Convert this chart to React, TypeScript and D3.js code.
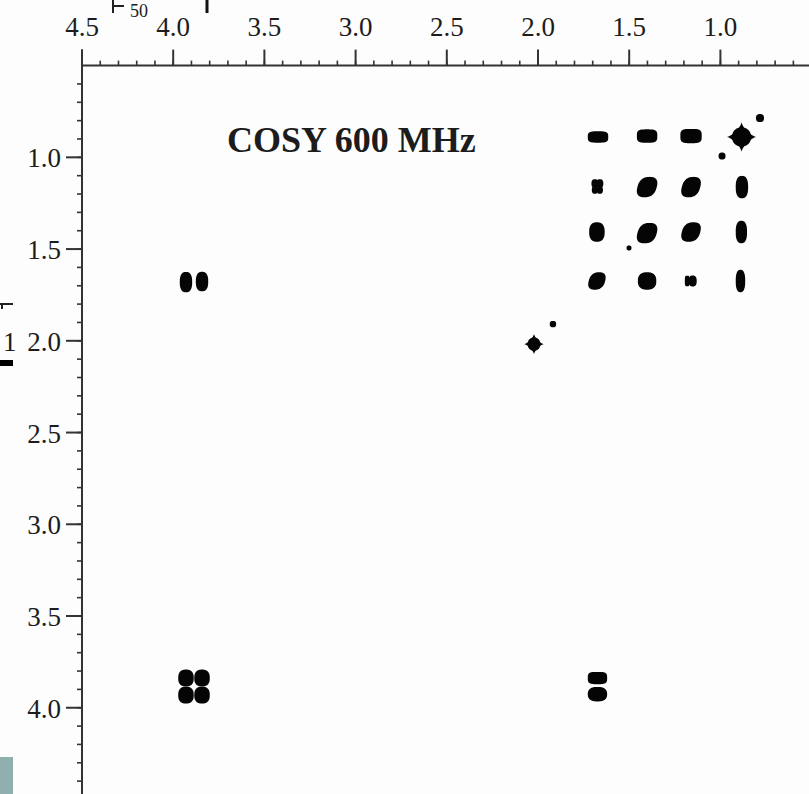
import React from "react";
import * as d3 from "d3";

// ---- data (ppm) ----
const xMajorTicks = [4.5, 4.0, 3.5, 3.0, 2.5, 2.0, 1.5, 1.0];
const yMajorTicks = [1.0, 1.5, 2.0, 2.5, 3.0, 3.5, 4.0];
const titleText = "COSY 600 MHz";

// contour lobes: [x ppm, y ppm, width ppm, height ppm, kind]
const lobesRowA: [number, number, number, number, string][] = [
  [1.671, 0.889, 0.112, 0.062, "rect"],
  [1.402, 0.884, 0.112, 0.073, "rect"],
  [1.161, 0.884, 0.117, 0.078, "rect"],
  [0.884, 0.889, 0.162, 0.162, "star"],
];
const lobesRowB: [number, number, number, number, string][] = [
  [1.688, 1.143, 0.038, 0.048, "oval"],
  [1.661, 1.143, 0.038, 0.048, "oval"],
  [1.688, 1.178, 0.034, 0.042, "oval"],
  [1.661, 1.178, 0.034, 0.042, "oval"],
  [1.402, 1.162, 0.106, 0.111, "tilt"],
  [1.161, 1.162, 0.101, 0.111, "tilt"],
  [0.882, 1.162, 0.068, 0.122, "oval"],
];
const lobesRowC: [number, number, number, number, string][] = [
  [1.677, 1.407, 0.085, 0.106, "oval"],
  [1.402, 1.413, 0.106, 0.111, "tilt"],
  [1.161, 1.407, 0.101, 0.106, "tilt"],
  [0.885, 1.407, 0.062, 0.122, "oval"],
];
const lobesRowD: [number, number, number, number, string][] = [
  [1.677, 1.674, 0.09, 0.095, "tilt"],
  [1.402, 1.674, 0.101, 0.095, "oval"],
  [1.182, 1.674, 0.026, 0.058, "rect"],
  [1.152, 1.674, 0.044, 0.06, "oval"],
  [0.89, 1.674, 0.052, 0.122, "oval"],
  [3.93, 1.68, 0.068, 0.111, "oval"],
  [3.842, 1.677, 0.068, 0.106, "oval"],
];
const lobesLow: [number, number, number, number, string][] = [
  [2.022, 2.018, 0.108, 0.112, "star"],
  [3.93, 3.838, 0.085, 0.092, "oval"],
  [3.842, 3.838, 0.085, 0.092, "oval"],
  [3.93, 3.931, 0.085, 0.092, "oval"],
  [3.842, 3.931, 0.085, 0.092, "oval"],
  [1.674, 3.838, 0.106, 0.067, "rect"],
  [1.674, 3.926, 0.106, 0.079, "oval"],
];
const noiseDots: [number, number, number, number, string][] = [
  [0.783, 0.786, 0.044, 0.044, "oval"],
  [0.991, 0.993, 0.038, 0.038, "oval"],
  [1.501, 1.494, 0.027, 0.027, "oval"],
  [1.918, 1.909, 0.035, 0.035, "oval"],
];

const W = 809;
const H = 794;

const x = d3.scaleLinear().domain([4.5, 0.5]).range([82, 82 + 4 * 182.4]);
const y = d3.scaleLinear().domain([0.5, 4.5]).range([65.6, 65.6 + 4 * 183.47]);

const lineGen = d3.line<[number, number]>().curve(d3.curveLinearClosed);

function superEllipse(rx: number, ry: number, n: number, N = 120): string {
  const pts: [number, number][] = [];
  for (let i = 0; i < N; i++) {
    const t = (i / N) * Math.PI * 2;
    const c = Math.cos(t);
    const s = Math.sin(t);
    pts.push([
      rx * Math.sign(c) * Math.pow(Math.abs(c), 2 / n),
      ry * Math.sign(s) * Math.pow(Math.abs(s), 2 / n),
    ]);
  }
  return lineGen(pts) as string;
}

function Lobe({ d }: { d: [number, number, number, number, string] }) {
  const [px, py, pw, ph, kind] = d;
  const cx = x(px);
  const cy = y(py);
  const rx = Math.abs(x(px - pw / 2) - x(px + pw / 2)) / 2;
  const ry = Math.abs(y(py - ph / 2) - y(py + ph / 2)) / 2;
  if (kind === "star") {
    return (
      <g transform={`translate(${cx},${cy})`} fill="#050505">
        <path d={superEllipse(rx, ry, 0.72)} />
        <path d={superEllipse(rx * 0.64, ry * 0.64, 2.2)} />
      </g>
    );
  }
  const n = kind === "rect" ? 3.6 : 2.5;
  const t = kind === "tilt" ? " skewX(-14)" : "";
  return (
    <path
      transform={`translate(${cx},${cy})${t}`}
      d={superEllipse(rx, ry, n)}
      fill="#050505"
    />
  );
}

export default function App() {
  const xMinor = d3.range(45, 5, -1).map((v) => v / 10).filter((v) => x(v) <= W);
  const yMinor = d3.range(6, 45, 1).map((v) => v / 10).filter((v) => y(v) <= H);
  const allLobes = [
    ...lobesRowA,
    ...lobesRowB,
    ...lobesRowC,
    ...lobesRowD,
    ...lobesLow,
    ...noiseDots,
  ];
  const axisColor = "#333";
  const textColor = "#1c1c1c";
  const font = "'Liberation Serif', 'Times New Roman', serif";
  return (
    <svg
      width={W}
      height={H}
      style={{ position: "absolute", left: 0, top: 0, background: "#fdfdfd" }}
      fontFamily={font}
    >
      <rect x={0} y={0} width={W} height={H} fill="#fdfdfd" />
      {/* cropped artifacts */}
      <line x1={113} y1={0} x2={113} y2={13} stroke="#222" strokeWidth={2} />
      <line x1={113} y1={6} x2={124} y2={6} stroke="#222" strokeWidth={2} />
      <text x={130} y={17} fontSize={18} fill={textColor}>50</text>
      <line x1={207} y1={0} x2={207} y2={13} stroke="#111" strokeWidth={3} />
      <line x1={0} y1={304} x2={13} y2={304} stroke="#222" strokeWidth={2} />
      <line x1={2} y1={304} x2={2} y2={309} stroke="#222" strokeWidth={2} />
      <text x={3} y={351} fontSize={27} fill={textColor}>1</text>
      <rect x={0} y={360} width={13} height={6} fill="#000" />
      <rect x={0} y={757} width={13} height={37} fill="#8fb0ae" />

      {/* top axis */}
      <line x1={x(4.5)} y1={y(0.5)} x2={W} y2={y(0.5)} stroke={axisColor} strokeWidth={2} />
      {xMinor.map((v) => (
        <line key={"xm" + v} x1={x(v)} x2={x(v)} y1={y(0.5)} y2={y(0.5) - 5} stroke={axisColor} strokeWidth={1.6} />
      ))}
      {xMajorTicks.map((v) => (
        <g key={"xM" + v}>
          <line x1={x(v)} x2={x(v)} y1={y(0.5)} y2={y(0.5) - 16} stroke={axisColor} strokeWidth={2} />
          <text x={x(v)} y={36} textAnchor="middle" fontSize={27} fill={textColor}>
            {v.toFixed(1)}
          </text>
        </g>
      ))}
      {/* left axis */}
      <line x1={x(4.5)} y1={y(0.5) - 16} x2={x(4.5)} y2={H} stroke={axisColor} strokeWidth={2} />
      {yMinor.map((v) => (
        <line key={"ym" + v} x1={x(4.5)} x2={x(4.5) - 5} y1={y(v)} y2={y(v)} stroke={axisColor} strokeWidth={1.6} />
      ))}
      {yMajorTicks.map((v) => (
        <g key={"yM" + v}>
          <line x1={x(4.5)} x2={x(4.5) - 16} y1={y(v)} y2={y(v)} stroke={axisColor} strokeWidth={2} />
          <text x={61} y={y(v) + 10} textAnchor="end" fontSize={27} fill={textColor}>
            {v.toFixed(1)}
          </text>
        </g>
      ))}

      <text x={227} y={152} fontSize={36} fontWeight="bold" fill={textColor}>
        {titleText}
      </text>

      {allLobes.map((d, i) => (
        <Lobe key={i} d={d} />
      ))}
    </svg>
  );
}
